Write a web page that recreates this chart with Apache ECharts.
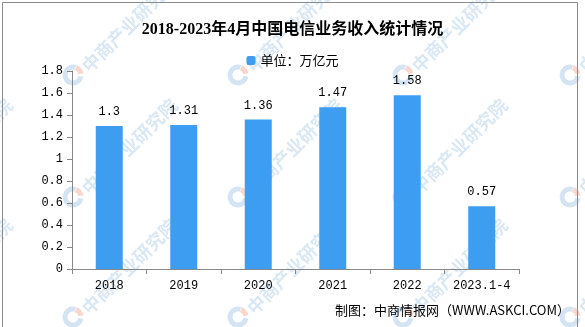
<!DOCTYPE html>
<html>
<head>
<meta charset="utf-8">
<script src="https://cdn.jsdelivr.net/npm/echarts@6/dist/echarts.min.js"></script>
<style>
  html, body { margin: 0; padding: 0; background: #fff; }
  #chart { width: 585px; height: 327px; }
</style>
</head>
<body>
<div id="chart"></div>
<script>
// Telecom business revenue, trillion yuan
const categories = ['2018', '2019', '2020', '2021', '2022', '2023.1-4'];
const revenue = [1.3, 1.31, 1.36, 1.47, 1.58, 0.57];
const yTicks = [0, 0.2, 0.4, 0.6, 0.8, 1, 1.2, 1.4, 1.6, 1.8];

const chart = echarts.init(document.getElementById('chart'));

// tiled brand watermark: small logo ring followed by diagonal text
const marks = [];
const tileX = [-92, 73, 238, 403, 570];
const tileY = [75, 197, 317];
tileY.forEach(ty => tileX.forEach(tx => {
  marks.push({
    type: 'arc', z: -1, silent: true,
    shape: { cx: tx, cy: ty, r: 8, startAngle: Math.PI * 0.05, endAngle: Math.PI * 1.6, clockwise: true },
    style: { stroke: 'rgba(120,170,215,0.32)', lineWidth: 5, fill: null }
  });
  marks.push({
    type: 'arc', z: -1, silent: true,
    shape: { cx: tx, cy: ty, r: 8, startAngle: Math.PI * 1.62, endAngle: Math.PI * 1.95, clockwise: true },
    style: { stroke: 'rgba(240,150,120,0.38)', lineWidth: 5, fill: null }
  });
  marks.push({
    type: 'text', x: tx + 12, y: ty - 6, rotation: Math.PI / 4, z: -1, silent: true,
    style: { text: '中商产业研究院', fill: 'rgba(130,180,220,0.3)', font: 'bold 18px "Noto Sans CJK SC"', align: 'left', verticalAlign: 'middle' }
  });
}));

chart.setOption({
  animation: false,
  textStyle: { fontFamily: '"Noto Sans CJK SC", sans-serif' },
  title: {
    text: '2018-2023年4月中国电信业务收入统计情况',
    left: 'center', top: 17,
    textStyle: { fontSize: 16, fontWeight: 'bold', color: '#000', fontFamily: '"Liberation Serif", "Noto Sans CJK SC"' }
  },
  legend: {
    data: ['单位：万亿元'], top: 49, left: 'center',
    itemWidth: 9, itemHeight: 9, itemGap: 4,
    textStyle: { fontSize: 13, color: '#000' }
  },
  grid: { left: 72, right: 66, top: 71, bottom: 58 },
  xAxis: {
    type: 'category', data: categories,
    axisLine: { lineStyle: { color: '#888' } },
    axisTick: { show: true, alignWithLabel: false, length: 5, lineStyle: { color: '#888' } },
    axisLabel: { interval: 0, color: '#000', fontSize: 12, margin: 11, fontFamily: '"Liberation Mono"' }
  },
  yAxis: {
    type: 'value', min: 0, max: 1.8, interval: 0.2,
    axisLine: { show: true, lineStyle: { color: '#888' } },
    axisTick: { show: true, length: 5, lineStyle: { color: '#888' } },
    splitLine: { show: false },
    axisLabel: {
      color: '#000', fontSize: 12, margin: 9, fontFamily: '"Liberation Mono"',
      formatter: v => {
        const t = yTicks.find(x => Math.abs(x - v) < 1e-9);
        return String(t !== undefined ? t : v);
      }
    }
  },
  series: [{
    name: '单位：万亿元', type: 'bar', data: revenue,
    barWidth: 27,
    itemStyle: { color: '#3d9df0' },
    label: { show: true, position: 'top', distance: 8, color: '#000', fontSize: 12, fontFamily: '"Liberation Mono"' }
  }],
  graphic: marks.concat([
    {
      type: 'text', right: 15, top: 304,
      style: { text: '制图：中商情报网（WWW.ASKCI.COM）', fill: '#000', font: '13px "Noto Sans CJK SC"' }
    },
    {
      type: 'rect', left: 0, top: 0, silent: true,
      shape: { x: 0.5, y: 0.5, width: 575, height: 325 },
      style: { fill: 'none', stroke: '#8c8c8c', lineWidth: 1 }
    }
  ])
});
</script>
</body>
</html>
